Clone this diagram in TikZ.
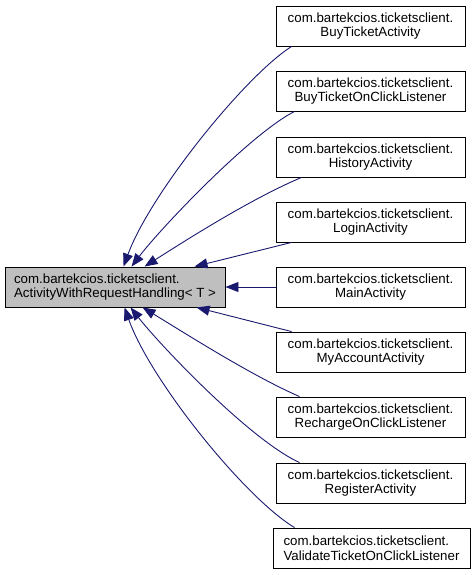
\documentclass[tikz,border=0pt]{standalone}
\usepackage{fontspec}
\setmainfont{Liberation Sans}
\usetikzlibrary{arrows.meta}
\definecolor{edgeblue}{HTML}{191970}
\definecolor{basegray}{HTML}{BFBFBF}
\begin{document}
\begin{tikzpicture}[x=1pt,y=-1pt,
  cls/.style={draw=black, line width=0.9pt, fill=white, minimum width=189pt,
    minimum height=40pt, inner sep=0pt, align=center,
    font=\fontsize{13.3}{14.5}\selectfont},
  inh/.style={draw=edgeblue, line width=0.9pt,
    -{Triangle[length=13pt,width=10pt]}}]
\useasboundingbox (0,0) rectangle (475,575);
\node[cls, fill=basegray, minimum width=220pt, align=left] (base) at (115,287)
  {com.bartekcios.ticketsclient.\\ActivityWithRequestHandling< T >};
\node[cls] (bt) at (370.5,26) {com.bartekcios.ticketsclient.\\BuyTicketActivity};
\node[cls] (bocl) at (370.5,91) {com.bartekcios.ticketsclient.\\BuyTicketOnClickListener};
\node[cls] (hist) at (370.5,157) {com.bartekcios.ticketsclient.\\HistoryActivity};
\node[cls] (login) at (370.5,222) {com.bartekcios.ticketsclient.\\LoginActivity};
\node[cls] (main) at (370.5,287) {com.bartekcios.ticketsclient.\\MainActivity};
\node[cls] (myacc) at (370.5,352) {com.bartekcios.ticketsclient.\\MyAccountActivity};
\node[cls] (rech) at (370.5,417) {com.bartekcios.ticketsclient.\\RechargeOnClickListener};
\node[cls] (reg) at (370.5,483) {com.bartekcios.ticketsclient.\\RegisterActivity};
\node[cls, minimum width=197pt, align=left] (val) at (371.5,548) {com.bartekcios.ticketsclient.\\ValidateTicketOnClickListener};

\draw[inh] ([xshift=16pt]bt.south west) .. controls (245,76) and (150,194) .. ([xshift=119pt]base.north west);
\draw[inh] ([xshift=19pt]bocl.south west) .. controls (250,134) and (160,229) .. ([xshift=127pt]base.north west);
\draw[inh] ([xshift=26pt]hist.south west) .. controls (250,199) and (180,244) .. ([xshift=140pt]base.north west);
\draw[inh] ([xshift=16pt]login.south west) -- ([xshift=190pt]base.north west);
\draw[inh] (main.west) -- (base.east);
\draw[inh] ([xshift=16pt]myacc.north west) -- ([xshift=192pt]base.south west);
\draw[inh] ([xshift=24pt]rech.north west) .. controls (250,375) and (180,330) .. ([xshift=138pt]base.south west);
\draw[inh] ([xshift=24pt]reg.north west) .. controls (250,440) and (160,345) .. ([xshift=126pt]base.south west);
\draw[inh] ([xshift=22pt]val.north west) .. controls (245,498) and (150,380) .. ([xshift=120pt]base.south west);
\end{tikzpicture}
\end{document}
